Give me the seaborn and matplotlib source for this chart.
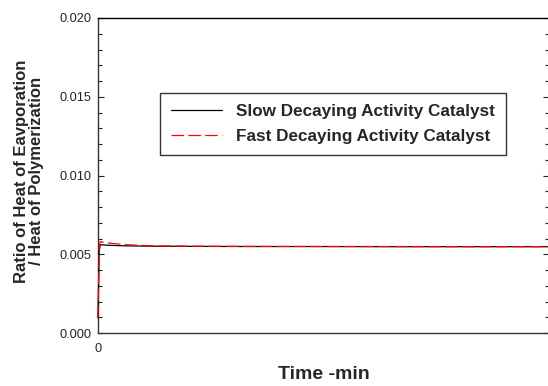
import matplotlib
matplotlib.use("Agg")
import matplotlib.pyplot as plt
import seaborn as sns
import numpy as np
import pandas as pd
from matplotlib.ticker import MultipleLocator, FixedLocator

# Time axis (min) and heat ratio for each catalyst
time_min = [0, 0.3, 0.6, 1, 2, 4, 8, 15, 25, 40, 60, 80, 100, 120]
slow_ratio = [0.00095, 0.0052, 0.00560, 0.00560, 0.00558, 0.00556, 0.00553,
              0.00551, 0.00550, 0.00549, 0.00549, 0.00548, 0.00548, 0.00548]
fast_ratio = [0.00095, 0.0055, 0.00580, 0.00578, 0.00574, 0.00568, 0.00560,
              0.00553, 0.00551, 0.00550, 0.00549, 0.00549, 0.00548, 0.00548]

series_names = ["Slow Decaying Activity Catalyst", "Fast Decaying Activity Catalyst"]
y_ticks = [0.000, 0.005, 0.010, 0.015, 0.020]
y_tick_labels = ["0.000", "0.005", "0.010", "0.015", "0.020"]
x_ticks = [0]
x_tick_labels = ["0"]

sns.set_theme(style="ticks")
plt.rcParams["font.family"] = ["Liberation Sans", "DejaVu Sans"]

fig = plt.figure(figsize=(5.48, 3.86), dpi=100)
ax = fig.add_axes([98 / 548, 1 - 333 / 386, (549 - 98) / 548, (333 - 18) / 386])

df = pd.DataFrame({
    "t": time_min * 2,
    "ratio": slow_ratio + fast_ratio,
    "series": [series_names[0]] * len(time_min) + [series_names[1]] * len(time_min),
})

sns.lineplot(data=df[df.series == series_names[0]], x="t", y="ratio",
             color="black", lw=0.9, ax=ax, label=series_names[0])
sns.lineplot(data=df[df.series == series_names[1]], x="t", y="ratio",
             color="red", lw=0.9, ax=ax, label=series_names[1])
ax.lines[1].set_dashes([10, 3.5])
for ln in ax.lines:
    ln.set_clip_on(False)
    ln.set_zorder(5)

ax.set_xlim(0, 120)
ax.set_ylim(0, 0.020)
ax.yaxis.set_major_locator(FixedLocator(y_ticks))
ax.set_yticklabels(y_tick_labels)
ax.yaxis.set_minor_locator(MultipleLocator(0.001))
ax.xaxis.set_major_locator(FixedLocator(x_ticks))
ax.set_xticklabels(x_tick_labels)

ax.tick_params(axis="y", which="both", direction="in", left=True, right=True,
               labelsize=9.2, pad=5, colors="#222222")
ax.tick_params(axis="y", which="major", length=4, width=0.8)
ax.tick_params(axis="y", which="minor", length=3, width=0.8)
ax.tick_params(axis="x", which="both", length=0, labelsize=9.2, pad=7)

for s in ax.spines.values():
    s.set_linewidth(1.0)
    s.set_color("#333333")
ax.spines["top"].set_color("black")

ax.set_xlabel("Time -min", fontsize=14, fontweight="bold", labelpad=8)
ax.set_ylabel("Ratio of Heat of Eavporation\n/ Heat of Polymerization",
              fontsize=12.0, fontweight="bold", linespacing=1.0)
ax.yaxis.set_label_coords(-0.12, 0.513)

leg = ax.legend(loc="upper left", bbox_to_anchor=((160 - 98) / 451, 1 - (93 - 18) / 315),
                prop={"weight": "bold", "size": 12.3},
                frameon=True, fancybox=False, edgecolor="black",
                handlelength=3.0, handletextpad=0.8, borderpad=0.65,
                labelspacing=0.6, borderaxespad=0)
leg.get_frame().set_linewidth(1.0)

fig.savefig("out.png", dpi=100)
